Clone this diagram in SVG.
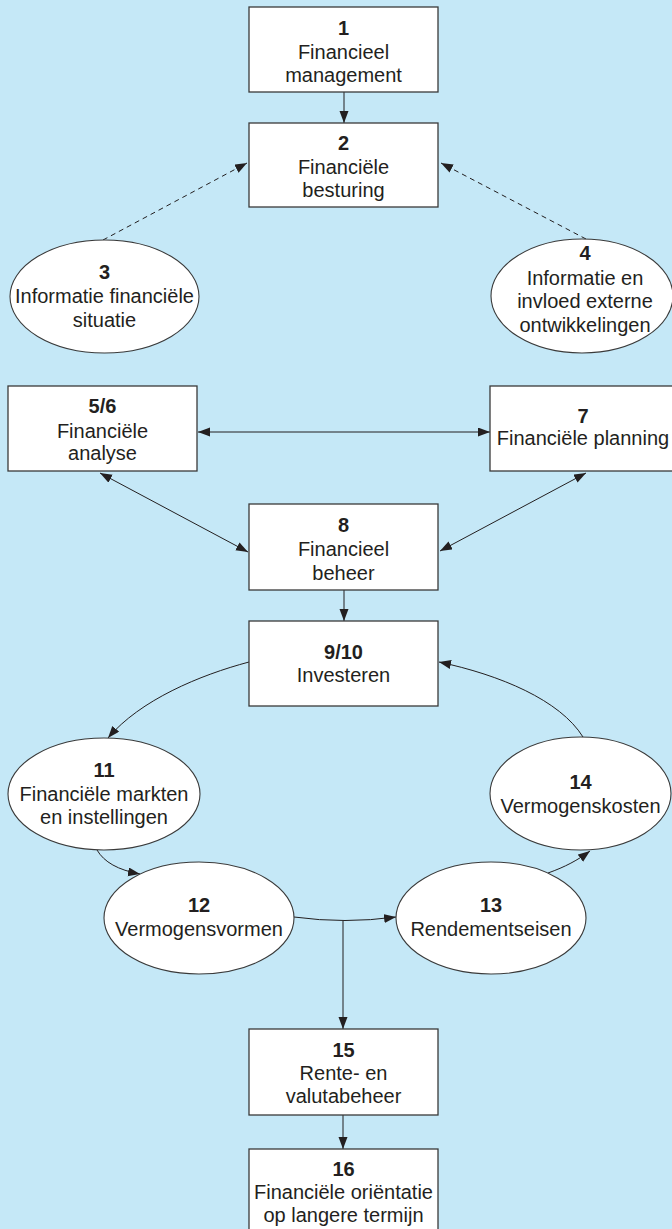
<svg xmlns="http://www.w3.org/2000/svg" width="672" height="1229" viewBox="0 0 672 1229">
  <defs>
    <marker id="head" markerUnits="userSpaceOnUse" markerWidth="13" markerHeight="10" refX="12" refY="4.5" orient="auto-start-reverse">
      <path d="M0,0 L12,4.5 L0,9 z" fill="#231f20"/>
    </marker>
    <style>
      .box { fill: #ffffff; stroke: #3a3a3a; stroke-width: 1.3; }
      .oval { fill: #ffffff; stroke: #3a3a3a; stroke-width: 1.1; }
      .t { font-family: "Liberation Sans", Arial, sans-serif; font-size: 20px; fill: #231f20; text-anchor: middle; }
      .n { font-weight: bold; }
      .link { fill: none; stroke: #231f20; stroke-width: 1; }
      .one { marker-end: url(#head); }
      .two { marker-start: url(#head); marker-end: url(#head); }
      .dash { stroke-dasharray: 5 4; }
    </style>
  </defs>

  <rect x="0" y="0" width="672" height="1229" fill="#c5e8f7"/>

  <!-- connectors -->
  <g id="connectors">
    <line class="link one" x1="344" y1="92" x2="344" y2="123"/>
    <line class="link one dash" x1="103" y1="240" x2="247" y2="163"/>
    <line class="link one dash" x1="586" y1="239" x2="441" y2="163"/>
    <line class="link two" x1="198" y1="432" x2="490" y2="432"/>
    <line class="link two" x1="100" y1="473" x2="248" y2="552"/>
    <line class="link two" x1="586" y1="473" x2="440" y2="551"/>
    <line class="link one" x1="344" y1="590" x2="344" y2="621"/>
    <path class="link one" d="M249,662 C200,675 140,700 108,738"/>
    <path class="link one" d="M583,737 C560,700 500,675 439,662"/>
    <path class="link one" d="M97,850 C104,862 118,870 140,874"/>
    <path class="link one" d="M548,873 C565,867 578,860 590,851"/>
    <path class="link one" d="M294,917 Q345,924 396,917"/>
    <line class="link one" x1="343" y1="921" x2="343" y2="1029"/>
    <line class="link one" x1="343" y1="1115" x2="343" y2="1149"/>
  </g>

  <g id="n1">
    <rect class="box" x="249" y="7" width="189" height="85"/>
    <text class="t n" x="343.5" y="35">1</text>
    <text class="t" x="343.5" y="59">Financieel</text>
    <text class="t" x="343.5" y="82">management</text>
  </g>

  <g id="n2">
    <rect class="box" x="249" y="123" width="189" height="84"/>
    <text class="t n" x="343.5" y="150">2</text>
    <text class="t" x="343.5" y="174">Financiële</text>
    <text class="t" x="343.5" y="197">besturing</text>
  </g>

  <g id="n3">
    <ellipse class="oval" cx="104.5" cy="296.5" rx="94.5" ry="56.5"/>
    <text class="t n" x="104.5" y="279">3</text>
    <text class="t" x="104.5" y="303">Informatie financiële</text>
    <text class="t" x="104.5" y="327">situatie</text>
  </g>

  <g id="n4">
    <ellipse class="oval" cx="582" cy="296" rx="91" ry="57"/>
    <text class="t n" x="585" y="260">4</text>
    <text class="t" x="585" y="285">Informatie en</text>
    <text class="t" x="585" y="308">invloed externe</text>
    <text class="t" x="585" y="332">ontwikkelingen</text>
  </g>

  <g id="n5_6">
    <rect class="box" x="8" y="386" width="189" height="85"/>
    <text class="t n" x="102.5" y="413">5/6</text>
    <text class="t" x="102.5" y="438">Financiële</text>
    <text class="t" x="102.5" y="460">analyse</text>
  </g>

  <g id="n7">
    <rect class="box" x="490" y="386" width="189" height="85"/>
    <text class="t n" x="583" y="423">7</text>
    <text class="t" x="583" y="445">Financiële planning</text>
  </g>

  <g id="n8">
    <rect class="box" x="249" y="504" width="189" height="86"/>
    <text class="t n" x="343.5" y="532">8</text>
    <text class="t" x="343.5" y="556">Financieel</text>
    <text class="t" x="343.5" y="580">beheer</text>
  </g>

  <g id="n9_10">
    <rect class="box" x="249" y="621" width="189" height="85"/>
    <text class="t n" x="343.5" y="659">9/10</text>
    <text class="t" x="343.5" y="682">Investeren</text>
  </g>

  <g id="n11">
    <ellipse class="oval" cx="104" cy="794" rx="96" ry="56"/>
    <text class="t n" x="104" y="777">11</text>
    <text class="t" x="104" y="801">Financiële markten</text>
    <text class="t" x="104" y="824">en instellingen</text>
  </g>

  <g id="n14">
    <ellipse class="oval" cx="580.5" cy="793.5" rx="90.5" ry="56.5"/>
    <text class="t n" x="580.5" y="789">14</text>
    <text class="t" x="580.5" y="813">Vermogenskosten</text>
  </g>

  <g id="n12">
    <ellipse class="oval" cx="199" cy="918" rx="95" ry="56"/>
    <text class="t n" x="199" y="912">12</text>
    <text class="t" x="199" y="936">Vermogensvormen</text>
  </g>

  <g id="n13">
    <ellipse class="oval" cx="491" cy="918" rx="95" ry="56"/>
    <text class="t n" x="491" y="912">13</text>
    <text class="t" x="491" y="936">Rendementseisen</text>
  </g>

  <g id="n15">
    <rect class="box" x="249" y="1029" width="189" height="86"/>
    <text class="t n" x="343.5" y="1057">15</text>
    <text class="t" x="343.5" y="1080">Rente- en</text>
    <text class="t" x="343.5" y="1103">valutabeheer</text>
  </g>

  <g id="n16">
    <rect class="box" x="249" y="1149" width="189" height="90"/>
    <text class="t n" x="343.5" y="1176">16</text>
    <text class="t" x="343.5" y="1199">Financiële oriëntatie</text>
    <text class="t" x="343.5" y="1222">op langere termijn</text>
  </g>
</svg>
